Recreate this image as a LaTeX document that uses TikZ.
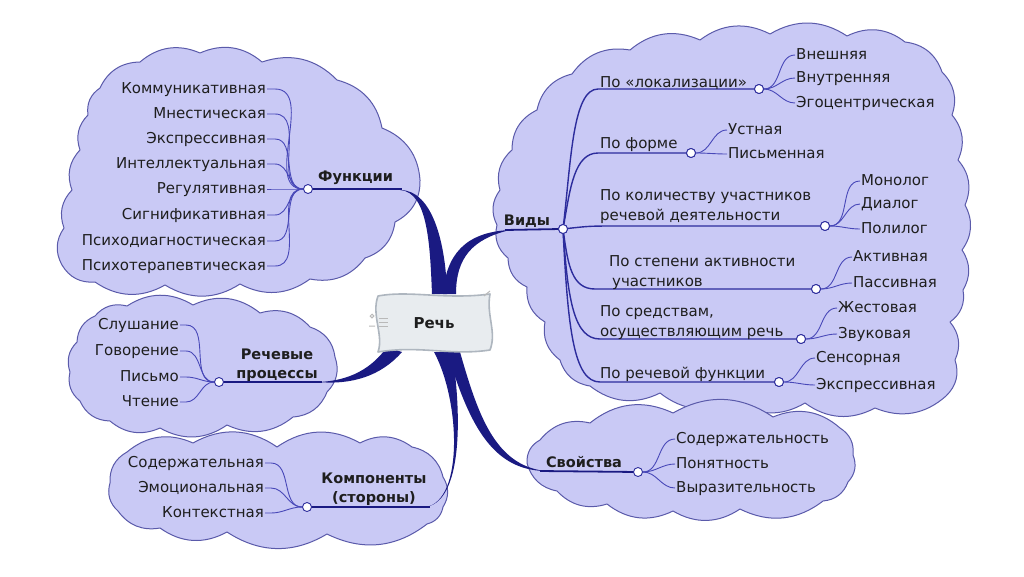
\documentclass[tikz,border=0pt]{standalone}
\usepackage{fontspec}
\setmainfont{DejaVu Sans}
\definecolor{cloudfill}{HTML}{C9C9F5}
\definecolor{cloudline}{HTML}{5A5AAA}
\definecolor{navy}{HTML}{1A1A82}
\definecolor{branch}{HTML}{2C2C9C}
\definecolor{leaf}{HTML}{4848B8}
\definecolor{txt}{HTML}{1E1E1E}
\definecolor{boxfill}{HTML}{E8ECEF}
\definecolor{boxline}{HTML}{AEB6BF}
\tikzset{
  cloudshape/.style={fill=cloudfill,draw=cloudline,line width=1pt,line join=round},
  puff/.style={bend left=32},
  item/.style={inner sep=1pt,text=txt,font=\fontsize{15}{19}\selectfont,text height=11pt,text depth=3pt},
  cat/.style={inner sep=1pt,text=txt,font=\fontsize{15}{20}\selectfont,align=left},
  head/.style={inner sep=1pt,text=txt,font=\bfseries\fontsize{14.5}{19}\selectfont,align=center},
  hub/.style={circle,fill=white,draw=branch,line width=0.9pt,minimum size=9pt,inner sep=0pt},
  leafline/.style={draw=leaf,line width=0.9pt},
  branchline/.style={draw=branch,line width=1.4pt},
  navyline/.style={draw=navy,line width=1.8pt},
  taper/.style={fill=navy},
  rechbox/.style={fill=boxfill,draw=boxline,line width=1.6pt,line join=round},
}
\begin{document}
\begin{tikzpicture}[x=1pt,y=-1pt]
\useasboundingbox (0,0) rectangle (1024,576);
\fill[white] (0,0) rectangle (1024,576);

% clouds
\draw[cloudshape] (100,88) to[puff] (140,62) to[puff] (200,53) to[puff] (262,62) to[puff] (337,80) to[puff] (382,128) to[puff] (420,180) to[puff] (395,222) to[puff] (365,258) to[puff] (310,279) to[puff] (240,284) to[puff] (165,285) to[puff] (95,282) to[puff] (62,265) to[puff] (64,228) to[puff] (72,190) to[puff] (80,150) to[puff] (88,115) to[puff] (100,88) -- cycle;
\draw[cloudshape] (500,190) to[puff] (512,150) to[puff] (537,110) to[puff] (572,74) to[puff] (630,50) to[puff] (700,40) to[puff] (770,34) to[puff] (847,36) to[puff] (905,42) to[puff] (942,72) to[puff] (952,115) to[puff] (958,160) to[puff] (965,205) to[puff] (962,250) to[puff] (963,290) to[puff] (950,322) to[puff] (955,360) to[puff] (946,396) to[puff] (875,408) to[puff] (805,403) to[puff] (735,401) to[puff] (660,393) to[puff] (590,386) to[puff] (560,360) to[puff] (545,322) to[puff] (527,287) to[puff] (508,258) to[puff] (497,225) to[puff] (500,190) -- cycle;
\draw[cloudshape] (540,440) to[puff] (590,423) to[puff] (673,413) to[puff] (773,417) to[puff] (840,428) to[puff] (853,455) to[puff] (848,482) to[puff] (823,501) to[puff] (740,509) to[puff] (673,511) to[puff] (607,504) to[puff] (557,491) to[puff] (527,463) to[puff] (540,440) -- cycle;
\draw[cloudshape] (77,342) to[puff] (95,316) to[puff] (127,306) to[puff] (193,305) to[puff] (260,313) to[puff] (310,327) to[puff] (335,357) to[puff] (327,392) to[puff] (293,417) to[puff] (227,425) to[puff] (160,428) to[puff] (110,421) to[puff] (80,401) to[puff] (70,372) to[puff] (77,342) -- cycle;
\draw[cloudshape] (110,483) to[puff] (127,452) to[puff] (193,443) to[puff] (277,447) to[puff] (360,443) to[puff] (412,447) to[puff] (443,477) to[puff] (443,507) to[puff] (427,524) to[puff] (327,534) to[puff] (227,532) to[puff] (160,528) to[puff] (118,511) to[puff] (110,483) -- cycle;

% tapered main connectors
\fill[taper] (432,294) .. controls (430,245) and (428,192) .. (400,190) .. controls (433,190) and (446,245) .. (447,294) -- cycle;
\fill[taper] (443,294) .. controls (446,255) and (465,232) .. (510,230) .. controls (472,239) and (456,258) .. (456,294) -- cycle;
\fill[taper] (387,347) .. controls (372,368) and (350,381) .. (318,382) .. controls (352,385) and (381,376) .. (402,352) -- cycle;
\fill[taper] (434,352) .. controls (460,400) and (464,500) .. (426,507) .. controls (466,500) and (460,400) .. (452,352) -- cycle;
\fill[taper] (447,352) .. controls (468,420) and (490,470) .. (545,471) .. controls (495,465) and (478,415) .. (460,352) -- cycle;

% central node
\draw[rechbox] (378,296) .. controls (410,290) and (445,300) .. (490,294) .. controls (486,315) and (497,332) .. (490,350) .. controls (450,356) and (420,345) .. (378,352) .. controls (384,335) and (371,315) .. (378,296) -- cycle;
\draw[gray!55,line width=1pt] (379,318) -- (388,318) (379,322) -- (388,322) (379,326) -- (388,326);
\draw[gray!55,line width=1pt] (372,316) circle (1.8) (369,326) -- (375,326);
\draw[gray!55,line width=1pt] (484,296) -- (490,291);
\node[font=\bfseries\fontsize{15}{18}\selectfont,text=txt] (rech) at (434,323) {Речь};

% ---------- Функции ----------
\node[item,anchor=east] (f1) at (267,89) {Коммуникативная};
\node[item,anchor=east] (f2) at (267,114) {Мнестическая};
\node[item,anchor=east] (f3) at (267,139) {Экспрессивная};
\node[item,anchor=east] (f4) at (267,164) {Интеллектуальная};
\node[item,anchor=east] (f5) at (267,189) {Регулятивная};
\node[item,anchor=east] (f6) at (267,215) {Сигнификативная};
\node[item,anchor=east] (f7) at (267,241) {Психодиагностическая};
\node[item,anchor=east] (f8) at (267,266) {Психотерапевтическая};
\coordinate (fj) at (402,189);
\draw[navyline] (308,189) -- (fj);
\foreach \n in {f1,f2,f3,f4,f5,f6,f7,f8} \draw[leafline] (\n.east) -- ++(8,0) to[out=0,in=180] (303,189);
\node[hub] (fh) at (308,189) {};
\node[head,anchor=west] (fl) at (317,178) {Функции};

% ---------- Речевые процессы ----------
\node[item,anchor=east] (p1) at (180,325) {Слушание};
\node[item,anchor=east] (p2) at (180,351) {Говорение};
\node[item,anchor=east] (p3) at (180,377) {Письмо};
\node[item,anchor=east] (p4) at (180,402) {Чтение};
\coordinate (pj) at (322,382);
\draw[navyline] (219,382) -- (pj);
\foreach \n in {p1,p2,p3,p4} \draw[leafline] (\n.east) -- ++(6,0) to[out=0,in=180] (214,382);
\node[hub] (ph) at (219,382) {};
\node[head] (pl) at (277,365) {Речевые\\процессы};

% ---------- Компоненты ----------
\node[item,anchor=east] (k1) at (265,463) {Содержательная};
\node[item,anchor=east] (k2) at (265,488) {Эмоциональная};
\node[item,anchor=east] (k3) at (265,513) {Контекстная};
\coordinate (kj) at (430,507);
\draw[navyline] (307,507) -- (kj);
\foreach \n in {k1,k2,k3} \draw[leafline] (\n.east) -- ++(6,0) to[out=0,in=180] (302,507);
\node[hub] (kh) at (307,507) {};
\node[head] (kl) at (374,489) {Компоненты\\(стороны)};

% ---------- Свойства ----------
\coordinate (sj) at (540,471);
\draw[navyline] (sj) -- (638,472);
\node[item,anchor=west] (s1) at (675,439) {Содержательность};
\node[item,anchor=west] (s2) at (675,464) {Понятность};
\node[item,anchor=west] (s3) at (675,488) {Выразительность};
\node[hub] (sh) at (638,472) {};
\foreach \n in {s1,s2,s3} \draw[leafline] (sh) to[out=0,in=180] (\n.west);
\node[head] (sl) at (584,462) {Свойства};

% ---------- Виды ----------
\coordinate (vj) at (505,230);
\draw[navyline] (vj) -- (560,229);
\node[head] (vl) at (527,221) {Виды};
\node[hub] (vh) at (563,229) {};
% category hubs
\node[hub] (h1) at (759,89) {};
\node[hub] (h2) at (691,153) {};
\node[hub] (h3) at (825,226) {};
\node[hub] (h4) at (816,289) {};
\node[hub] (h5) at (801,339) {};
\node[hub] (h6) at (779,382) {};
\draw[branchline] (vh) .. controls (571,160) and (573,89) .. (598,89) -- (h1);
\draw[branchline] (vh) .. controls (570,190) and (574,153) .. (598,153) -- (h2);
\draw[branchline] (vh) .. controls (590,226) .. (620,226) -- (h3);
\draw[branchline] (vh) .. controls (568,265) and (572,289) .. (595,289) -- (h4);
\draw[branchline] (vh) .. controls (568,300) and (574,339) .. (600,339) -- (h5);
\draw[branchline] (vh) .. controls (568,330) and (574,382) .. (600,382) -- (h6);
\node[hub] at (vh) {};
\foreach \h in {h1,h2,h3,h4,h5,h6} \node[hub] at (\h) {};
% category texts (base anchor = baseline of last line)
\node[cat,anchor=base west] (c1) at (599,87) {По «локализации»};
\node[cat,anchor=base west] (c2) at (599,148) {По форме};
\node[cat,anchor=base west] (c3) at (599,220) {По количеству участников\\речевой деятельности};
\node[cat,anchor=base west] (c4) at (608,286) {По степени активности\\\hspace*{3pt}участников};
\node[cat,anchor=base west] (c5) at (599,336) {По средствам,\\осуществляющим речь};
\node[cat,anchor=base west] (c6) at (599,378) {По речевой функции};
% leaves
\node[item,anchor=west] (l11) at (795,55) {Внешняя};
\node[item,anchor=west] (l12) at (795,78) {Внутренняя};
\node[item,anchor=west] (l13) at (795,103) {Эгоцентрическая};
\node[item,anchor=west] (l21) at (727,130) {Устная};
\node[item,anchor=west] (l22) at (727,154) {Письменная};
\node[item,anchor=west] (l31) at (860,181) {Монолог};
\node[item,anchor=west] (l32) at (860,204) {Диалог};
\node[item,anchor=west] (l33) at (860,229) {Полилог};
\node[item,anchor=west] (l41) at (852,257) {Активная};
\node[item,anchor=west] (l42) at (852,283) {Пассивная};
\node[item,anchor=west] (l51) at (837,308) {Жестовая};
\node[item,anchor=west] (l52) at (837,334) {Звуковая};
\node[item,anchor=west] (l61) at (815,358) {Сенсорная};
\node[item,anchor=west] (l62) at (815,385) {Экспрессивная};
\foreach \h/\l in {h1/l11,h1/l12,h1/l13,h2/l21,h2/l22,h3/l31,h3/l32,h3/l33,h4/l41,h4/l42,h5/l51,h5/l52,h6/l61,h6/l62}
  \draw[leafline] (\h) to[out=0,in=180] (\l.west);
\end{tikzpicture}
\end{document}
